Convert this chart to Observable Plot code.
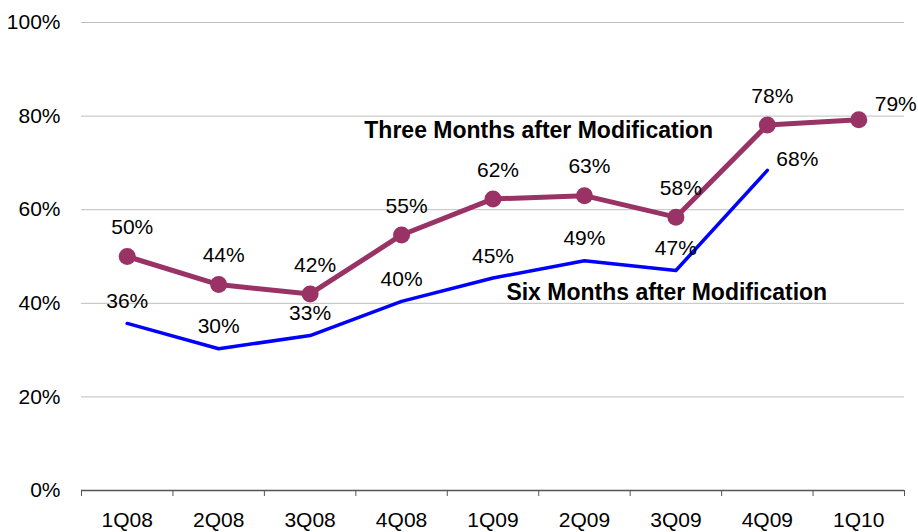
<!DOCTYPE html>
<html><head><meta charset="utf-8">
<script src="https://cdn.jsdelivr.net/npm/d3@7"></script>
<script src="https://cdn.jsdelivr.net/npm/@observablehq/plot@0.6"></script>
<style>body{margin:0;background:#fff;}</style>
</head><body><div id="chart"></div>
<script>
const quarters = ["1Q08","2Q08","3Q08","4Q08","1Q09","2Q09","3Q09","4Q09","1Q10"];
const threeMonths = [50, 44, 42, 54.6, 62.3, 63, 58.4, 78.1, 79.2];
const sixMonths = [35.7, 30.3, 33.1, 40.4, 45.4, 49.1, 47.0, 68.4];
const yTicks = [0, 20, 40, 60, 80, 100];
const seriesNames = ["Three Months after Modification", "Six Months after Modification"];

const three = threeMonths.map((v, i) => ({i, q: quarters[i], v}));
const six = sixMonths.map((v, i) => ({i, q: quarters[i], v}));
const pct = d => Math.round(d.v) + "%";
const maroon = "#993366", blue = "#0000ff";

const chart = Plot.plot({
  width: 918, height: 532,
  marginLeft: 81, marginRight: 14, marginTop: 22, marginBottom: 42,
  style: {fontFamily: "'Liberation Sans', Arial, sans-serif", fontSize: "21px", color: "#000", background: "#fff"},
  x: {type: "linear", domain: [-0.5, quarters.length - 0.5]},
  y: {domain: [0, 100]},
  marks: [
    Plot.gridY(yTicks.filter(d => d > 0), {stroke: "#bfbfbf", strokeOpacity: 1, strokeWidth: 1}),
    Plot.axisY(yTicks, {tickSize: 0, tickPadding: 21, tickFormat: d => d + "%", fontSize: 21, label: null}),
    Plot.ruleY([0], {stroke: "#555", strokeWidth: 1.5}),
    Plot.axisX(d3.range(-0.5, quarters.length), {tickSize: 6, stroke: "#555", tickFormat: () => "", label: null}),
    Plot.axisX(d3.range(quarters.length), {tickSize: 0, tickPadding: 22, tickFormat: i => quarters[i], fontSize: 21, label: null}),
    Plot.line(six, {x: "i", y: "v", stroke: blue, strokeWidth: 3.5}),
    Plot.line(three, {x: "i", y: "v", stroke: maroon, strokeWidth: 5}),
    Plot.dot(three, {x: "i", y: "v", r: 8.5, fill: maroon}),
    Plot.text(three.slice(0, -1), {x: "i", y: "v", text: pct, dx: 5, dy: -29, fontSize: 21}),
    Plot.text(three.slice(-1), {x: "i", y: "v", text: pct, dx: 37, dy: -16, fontSize: 21}),
    Plot.text(six.slice(0, -1), {x: "i", y: "v", text: pct, dy: -22, fontSize: 21}),
    Plot.text(six.slice(-1), {x: "i", y: "v", text: pct, dx: 30, dy: -11, fontSize: 21}),
    Plot.text([seriesNames[0]], {x: 4.5, y: 76.9, text: d => d, fontWeight: "bold", fontSize: 23}),
    Plot.text([seriesNames[1]], {x: 5.9, y: 42.3, text: d => d, fontWeight: "bold", fontSize: 23})
  ]
});
document.getElementById("chart").appendChild(chart);
</script>
</body></html>
